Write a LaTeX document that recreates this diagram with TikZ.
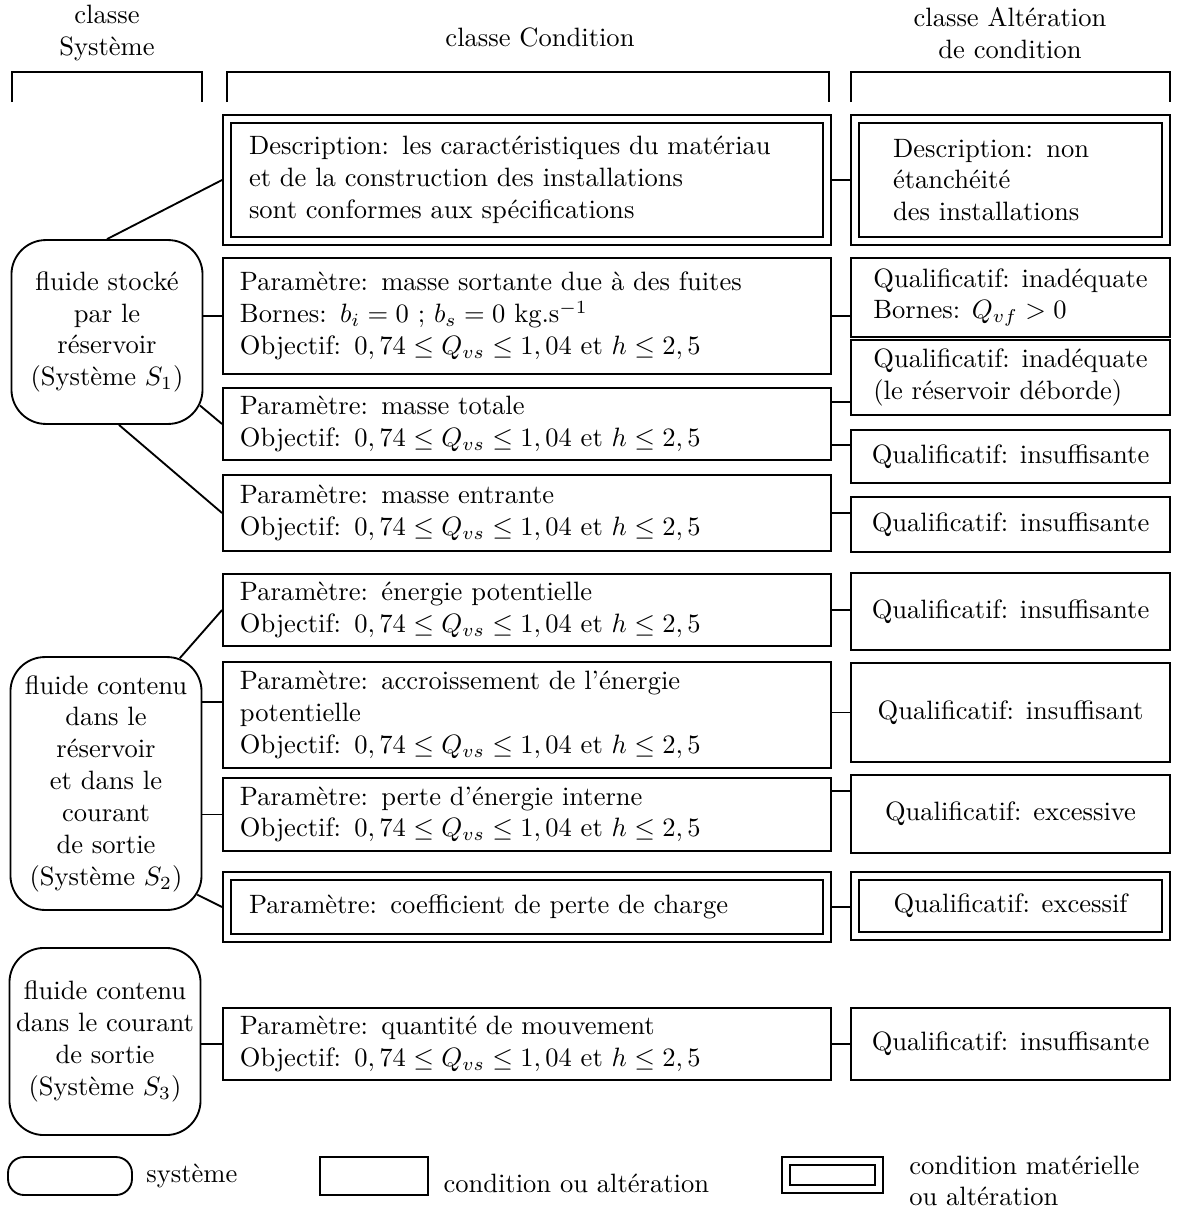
\documentclass[tikz,border=0pt]{standalone}
\usepackage{amsmath}
\usepackage{tikz}
\usetikzlibrary{positioning}
\newcommand{\objectif}{Objectif: $0,74 \leq Q_{vs} \leq 1,04$ et $h \leq 2,5$}
\tikzset{
  boite/.style={draw, line width=0.7pt, inner sep=1pt},
  mat/.style={double, double distance=2.3pt, outer sep=1.85pt},
  sysbox/.style={boite, rounded corners=13pt, minimum width=72pt, align=center},
  condbox/.style={boite, minimum width=229.1pt, text width=216.3pt, align=left},
  condmat/.style={condbox, mat, minimum width=226.1pt, text width=209.5pt},
  altbox/.style={boite, minimum width=120.2pt, align=left},
  altmat/.style={altbox, mat, minimum width=117.2pt},
  lien/.style={line width=0.7pt},
  entete/.style={align=center},
  legtext/.style={align=left, inner sep=0pt},
}

\begin{document}
\begin{tikzpicture}[x=0.3768pt, y=-0.3768pt]
  \useasboundingbox (0,0) rectangle (1180,1209);

  % en-tetes des trois classes
  \node[entete] (hsys) at (107,33) {classe\\Système};
  \node[entete] (hcond) at (540,37) {classe Condition};
  \node[entete] (halt) at (1010,33) {classe Altération\\de condition};
  \draw[lien] (12,102) |- (202,72) -- (202,102);
  \draw[lien] (227,102) |- (829,72) -- (829,102);
  \draw[lien] (851,102) |- (1170,72) -- (1170,102);

  % systemes
  \node[sysbox, minimum height=69.3pt] (s1) at (107,332)
    {fluide stocké\\par le\\réservoir\\(Système $S_1$)};
  \node[sysbox, minimum height=95.3pt] (s2) at (106,783.5)
    {fluide contenu\\dans le\\réservoir\\et dans le\\courant\\de sortie\\(Système $S_2$)};
  \node[sysbox, minimum height=70.5pt] (s3) at (105,1041.5)
    {fluide contenu\\dans le courant\\de sortie\\(Système $S_3$)};

  % conditions
  \node[condmat, minimum height=46pt] (c1) at (527,180)
    {Description: les caractéristiques du matériau\\
     et de la construction des installations\\
     sont conformes aux spécifications};
  \node[condbox, minimum height=43.7pt] (c2) at (527,316)
    {Paramètre: masse sortante due à des fuites\\
     Bornes: $b_i = 0$~; $b_s = 0$ kg.s$^{-1}$\\
     \objectif};
  \node[condbox, minimum height=27.1pt] (c3) at (527,424)
    {Paramètre: masse totale\\\objectif};
  \node[condbox, minimum height=28.6pt] (c4) at (527,513)
    {Paramètre: masse entrante\\\objectif};
  \node[condbox, minimum height=27.1pt] (c5) at (527,610)
    {Paramètre: énergie potentielle\\\objectif};
  \node[condbox, minimum height=39.9pt] (c6) at (527,715)
    {Paramètre: accroissement de l'énergie\\potentielle\\\objectif};
  \node[condbox, minimum height=27.5pt] (c7) at (527,814.5)
    {Paramètre: perte d'énergie interne\\\objectif};
  \node[condmat, minimum height=23.4pt] (c8) at (527,907)
    {Paramètre: coefficient de perte de charge};
  \node[condbox, minimum height=27.1pt] (c9) at (527,1044)
    {Paramètre: quantité de mouvement\\\objectif};

  % alterations
  \node[altmat, minimum height=46pt, text width=88.5pt] (a1) at (1010.5,180)
    {Description: non\\étanchéité\\des installations};
  \node[altbox, minimum height=29.8pt] (a2) at (1010.5,297.5)
    {Qualificatif: inadéquate\\Bornes: $Q_{vf} > 0$};
  \node[altbox, minimum height=28.3pt] (a3) at (1010.5,377.5)
    {Qualificatif: inadéquate\\(le réservoir déborde)};
  \node[altbox, minimum height=20pt] (a4) at (1010.5,456.5)
    {Qualificatif: insuffisante};
  \node[altbox, minimum height=20.7pt] (a5) at (1010.5,524.5)
    {Qualificatif: insuffisante};
  \node[altbox, minimum height=29pt] (a6) at (1010.5,611.5)
    {Qualificatif: insuffisante};
  \node[altbox, minimum height=37.3pt] (a7) at (1010.5,712.5)
    {Qualificatif: insuffisant};
  \node[altbox, minimum height=29.4pt] (a8) at (1010.5,814)
    {Qualificatif: excessive};
  \node[altmat, minimum height=22.6pt] (a9) at (1010.5,906)
    {Qualificatif: excessif};
  \node[altbox, minimum height=27.1pt] (a10) at (1010.5,1044)
    {Qualificatif: insuffisante};

  % liens systeme - condition
  \draw[lien] (s1.north) -- (c1.west);
  \draw[lien] (c2.west) -- (c2.west -| s1.east);
  \draw[lien] ([shift={(-13pt,13pt)}]s1.south east) ++(-26:13pt) -- (c3.west);
  \draw[lien] ([xshift=4.5pt]s1.south) -- (c4.west);
  \draw[lien] ([shift={(-13pt,-13pt)}]s2.north east) ++(70:13pt) -- (c5.west);
  \draw[lien] ([yshift=5pt]c6.west) -- ([yshift=5pt]c6.west -| s2.east);
  \draw[lien] (c7.west) -- (c7.west -| s2.east);
  \draw[lien] ([shift={(-13pt,13pt)}]s2.south east) ++(-32:13pt) -- (c8.west);
  \draw[lien] (c9.west) -- (c9.west -| s3.east);

  % liens condition - alteration
  \draw[lien] (c1.east) -- (a1.west);
  \draw[lien] (c2.east) -- (c2.east -| a2.west);
  \draw[lien] ([yshift=8.3pt]c3.east) -- ([yshift=8.3pt]c3.east -| a3.west);
  \draw[lien] ([yshift=-7.9pt]c3.east) -- ([yshift=-7.9pt]c3.east -| a4.west);
  \draw[lien] (c4.east) -- (c4.east -| a5.west);
  \draw[lien] (c5.east) -- (c5.east -| a6.west);
  \draw[lien] (a7.west) -- (a7.west -| c6.east);
  \draw[lien] ([yshift=9pt]c7.east) -- ([yshift=9pt]c7.east -| a8.west);
  \draw[lien] (c8.east) -- (c8.east -| a9.west);
  \draw[lien] (c9.east) -- (a10.west);

  % legende
  \node[boite, rounded corners=6pt, minimum width=46.7pt, minimum height=14.3pt] (lsys) at (70,1176) {};
  \node[legtext, right=4.9pt of lsys] (tsys) {système};
  \node[boite, minimum width=40.7pt, minimum height=14.3pt] (lcond) at (374,1176) {};
  \node[legtext, right=5.3pt of lcond, yshift=-2.6pt] (tcond) {condition ou altération};
  \node[boite, mat, minimum width=35pt, minimum height=10.5pt] (lmat) at (832.5,1175) {};
  \node[legtext, right=9.4pt of lmat, yshift=-2.2pt] (tmat) {condition matérielle\\ou altération};
\end{tikzpicture}
\end{document}
